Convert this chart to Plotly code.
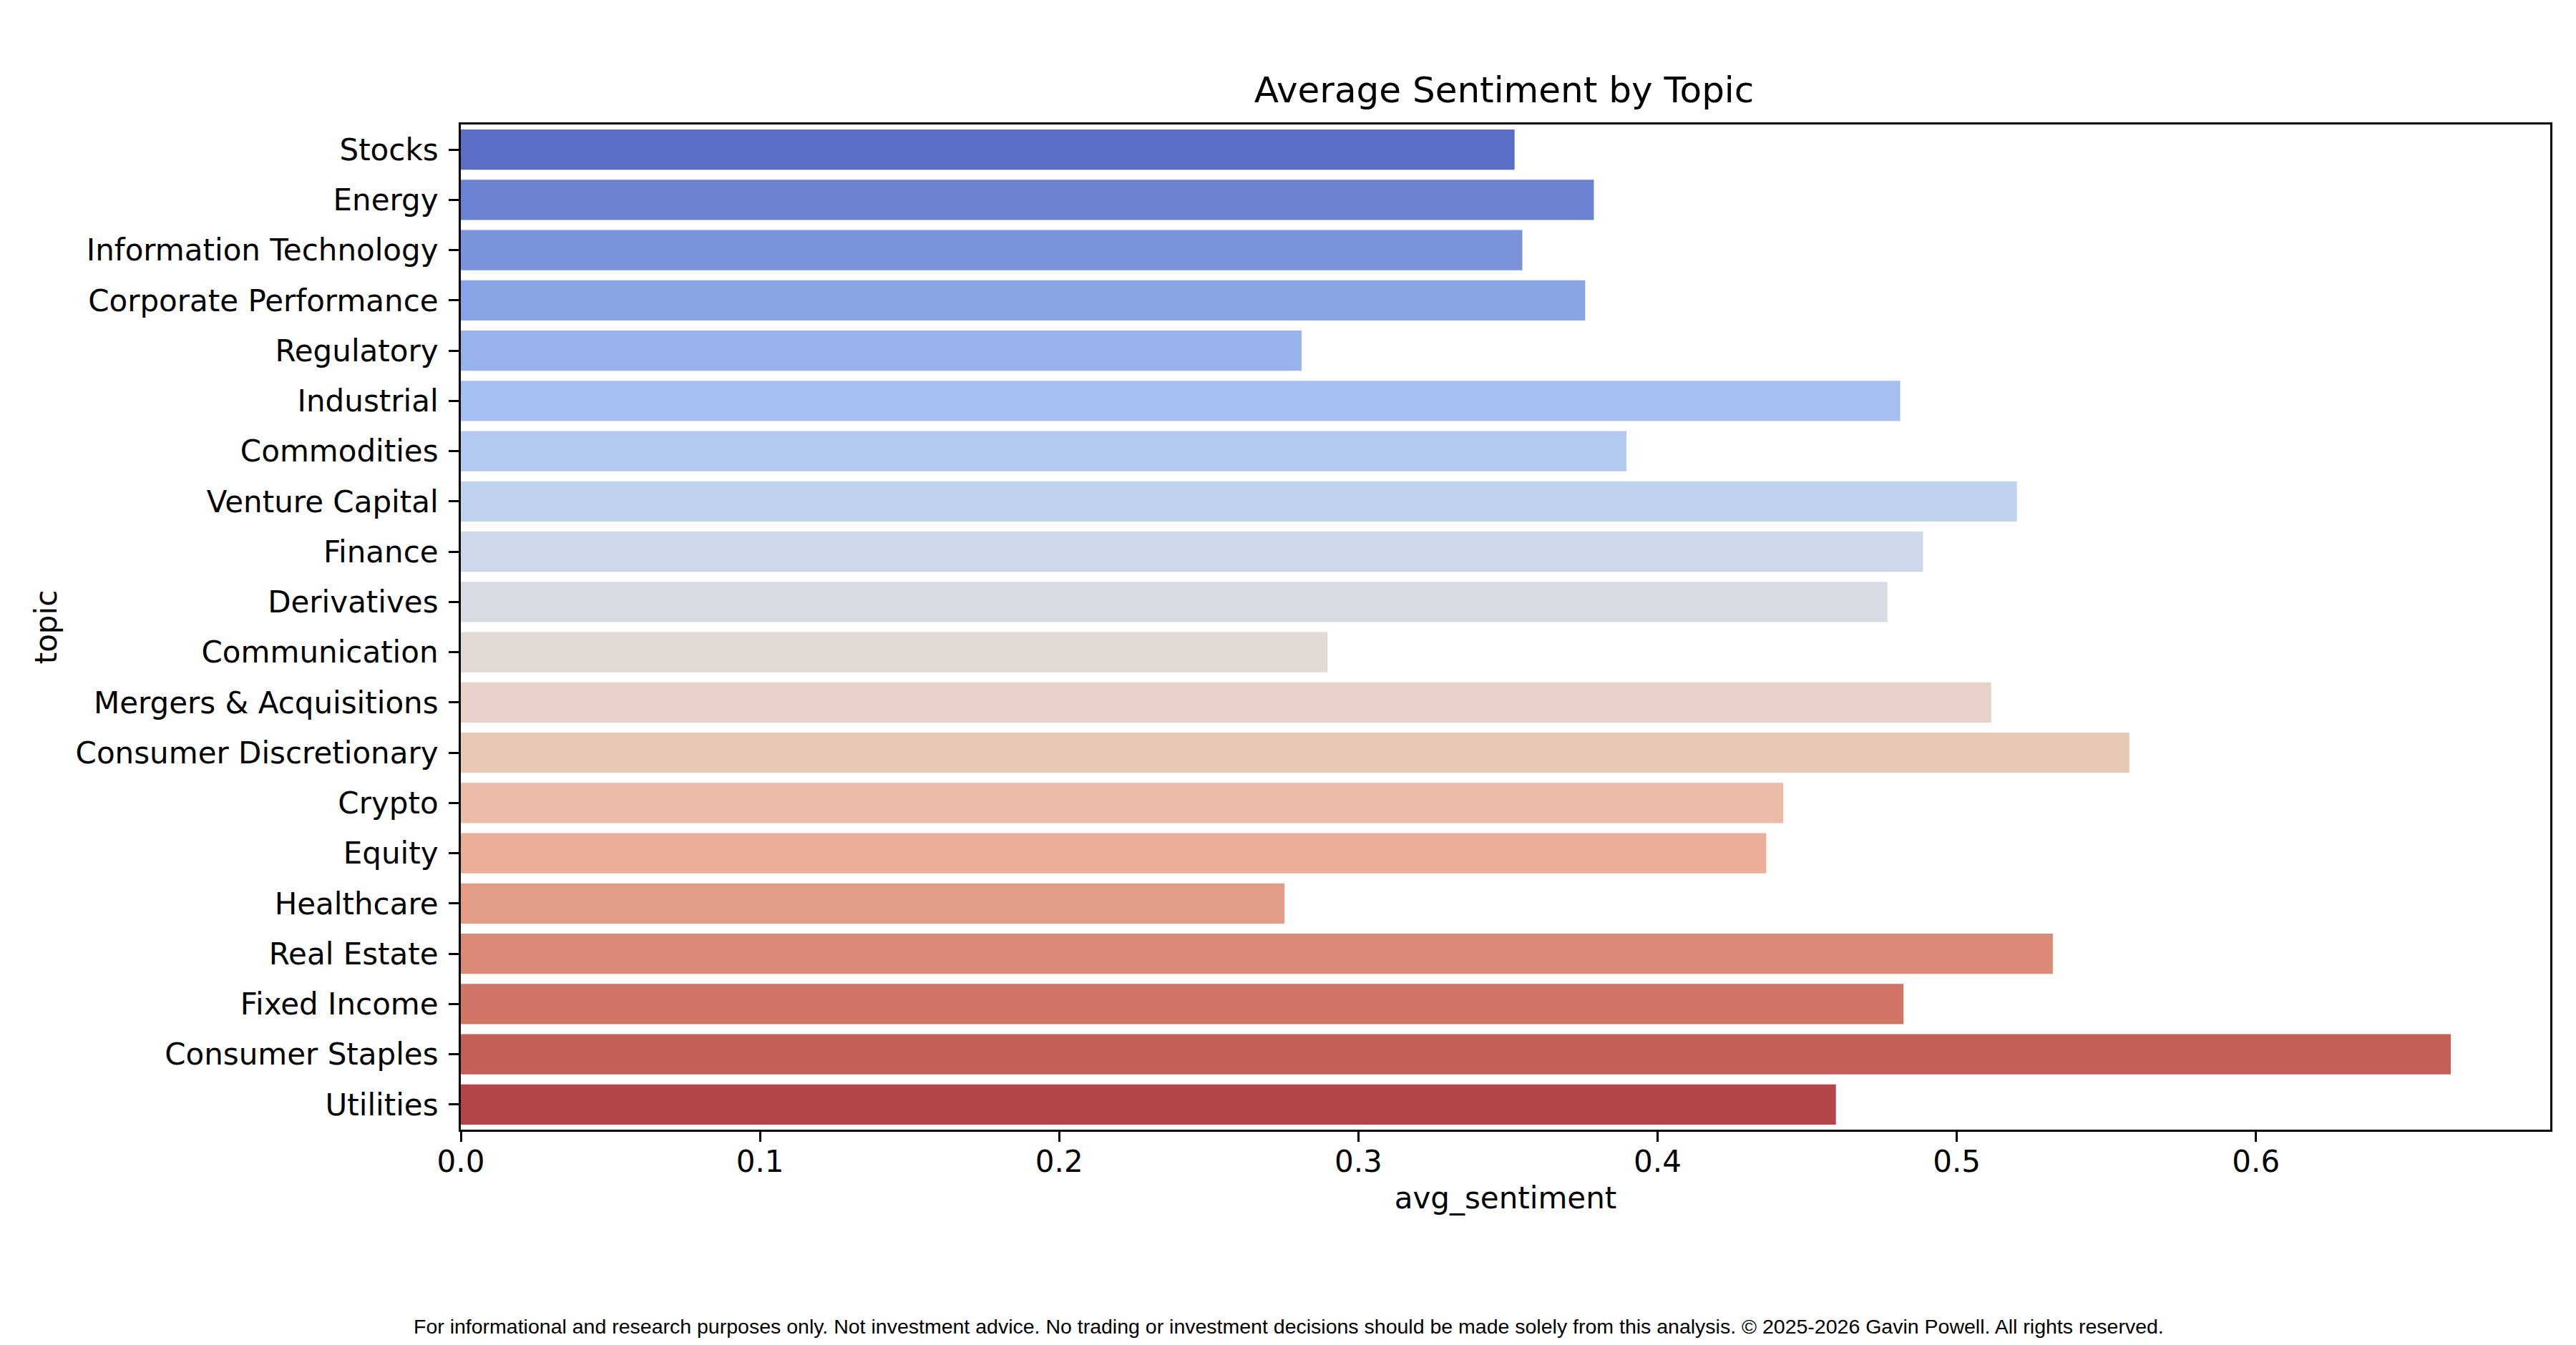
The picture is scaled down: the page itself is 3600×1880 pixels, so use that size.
import plotly.graph_objects as go

# average sentiment per topic
topics = ["Stocks", "Energy", "Information Technology", "Corporate Performance",
          "Regulatory", "Industrial", "Commodities", "Venture Capital", "Finance",
          "Derivatives", "Communication", "Mergers & Acquisitions",
          "Consumer Discretionary", "Crypto", "Equity", "Healthcare", "Real Estate",
          "Fixed Income", "Consumer Staples", "Utilities"]
avg_sentiment = [0.3522, 0.3787, 0.3548, 0.3758, 0.2810, 0.4811, 0.3896, 0.5201,
                 0.4887, 0.4768, 0.2897, 0.5115, 0.5577, 0.4420, 0.4363, 0.2753,
                 0.5321, 0.4822, 0.6651, 0.4596]

# desaturated coolwarm palette, one colour per topic
bar_colors = ["#5b6ec3", "#6a82d0", "#7a94dc", "#89a4e5", "#98b2ec", "#a6bff1",
              "#b4c9f2", "#c1d2ef", "#cdd8ea", "#d8dbe3", "#e2d9d4", "#e8d2c7",
              "#e9c8b8", "#ecbba7", "#eaae98", "#e39d87", "#da8a76", "#cf7564",
              "#c46057", "#b34548"]

x_ticks = [0.0, 0.1, 0.2, 0.3, 0.4, 0.5, 0.6]

footer = ("For informational and research purposes only. Not investment advice. "
          "No trading or investment decisions should be made solely from this analysis. "
          "\u00a9 2025-2026 Gavin Powell. All rights reserved.")

font = "DejaVu Sans"
W, H = 3600, 1880
L, R, T, B = 636, 44, 166, 309
plot_h = H - T - B

fig = go.Figure()
fig.add_trace(go.Bar(
    x=avg_sentiment,
    y=topics,
    orientation="h",
    marker_color=bar_colors,
    marker_line_width=0,
    showlegend=False,
))

fig.update_layout(
    width=W, height=H, autosize=False,
    margin=dict(l=L, r=R, t=T, b=B),
    paper_bgcolor="white", plot_bgcolor="white",
    bargap=0.2,
    font=dict(family=font, size=42, color="black"),
    title=dict(text="Average Sentiment by Topic", x=2094 / W,
               xanchor="center", y=1 - 117 / H, yanchor="middle",
               font=dict(family=font, size=50, color="black")),
)

fig.update_xaxes(
    range=[0, max(avg_sentiment) * 1.05],
    tickvals=x_ticks, ticktext=[f"{v:.1f}" for v in x_ticks],
    ticks="outside", ticklen=14, tickwidth=3, tickcolor="black",
    ticklabelstandoff=-8,
    showline=True, linewidth=3, linecolor="black", mirror=True,
    showgrid=False, zeroline=False,
    tickfont=dict(family=font, size=42, color="black"),
    title=dict(text="avg_sentiment", standoff=13,
               font=dict(family=font, size=42, color="black")),
)

fig.update_yaxes(
    type="category",
    categoryorder="array", categoryarray=topics,
    range=[len(topics) - 0.5, -0.5],
    ticks="outside", ticklen=14, tickwidth=3, tickcolor="black",
    ticklabelstandoff=6,
    showline=True, linewidth=3, linecolor="black", mirror=True,
    showgrid=False, zeroline=False,
    tickfont=dict(family=font, size=42, color="black"),
    title=dict(text="topic", standoff=13,
               font=dict(family=font, size=42, color="black")),
)

fig.add_annotation(
    text=footer, showarrow=False,
    xref="paper", yref="paper",
    x=(1793 - L) / (W - L - R), y=(H - B - 1846) / plot_h,
    xanchor="center", yanchor="middle",
    font=dict(family="Liberation Sans", size=28.5, color="black"),
)

fig.write_html("out.html")
